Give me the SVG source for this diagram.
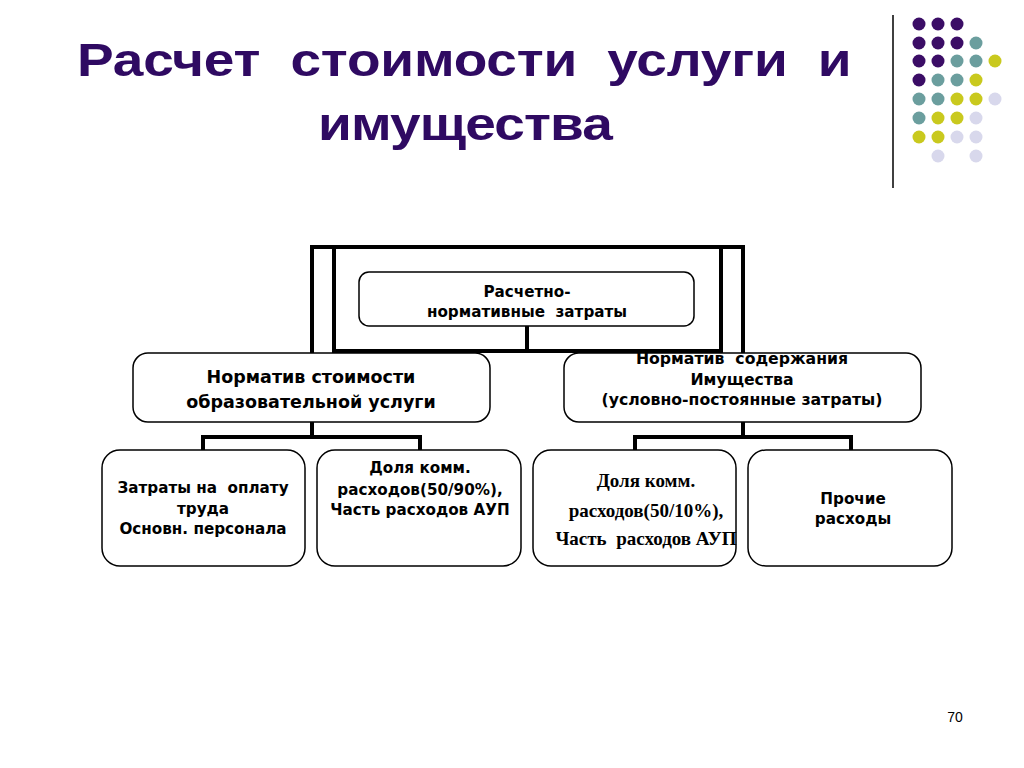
<svg xmlns="http://www.w3.org/2000/svg" width="1024" height="768" viewBox="0 0 1024 768">
<style>
.title{font-family:"Liberation Sans",Arial,sans-serif;font-weight:bold;font-size:47px;fill:#2f0a62;white-space:pre}
.box{fill:#fff;stroke:#000;stroke-width:1.5}
.t{font-family:"DejaVu Sans",Verdana,sans-serif;font-weight:bold;fill:#000;text-anchor:middle;white-space:pre}
.s{font-family:"Liberation Serif","Times New Roman",serif;font-weight:bold;fill:#000;text-anchor:middle;white-space:pre}
.con{fill:none;stroke:#000;stroke-width:4}
.p{fill:#3b0d66}.g{fill:#6b9e9e}.y{fill:#c9c91e}.l{fill:#d8d8ec}
</style>
<rect width="1024" height="768" fill="#fff"/>
<text class="title" transform="matrix(1.17 0 0 1 77 76)" x="0" y="0" textLength="662" lengthAdjust="spacing">Расчет  стоимости  услуги  и</text>
<text class="title" transform="matrix(1.17 0 0 1 318 140)" x="0" y="0" textLength="252" lengthAdjust="spacing">имущества</text>
<g id="decor">
<line x1="893" y1="15" x2="893" y2="188" stroke="#000" stroke-width="1.5"/>
<circle class="p" cx="919" cy="24" r="6.5"/><circle class="p" cx="938" cy="24" r="6.5"/><circle class="p" cx="957" cy="24" r="6.5"/>
<circle class="p" cx="919" cy="43" r="6.5"/><circle class="p" cx="938" cy="43" r="6.5"/><circle class="p" cx="957" cy="43" r="6.5"/><circle class="g" cx="976" cy="43" r="6.5"/>
<circle class="p" cx="919" cy="61" r="6.5"/><circle class="p" cx="938" cy="61" r="6.5"/><circle class="g" cx="957" cy="61" r="6.5"/><circle class="g" cx="976" cy="61" r="6.5"/><circle class="y" cx="995" cy="61" r="6.5"/>
<circle class="p" cx="919" cy="80" r="6.5"/><circle class="g" cx="938" cy="80" r="6.5"/><circle class="g" cx="957" cy="80" r="6.5"/><circle class="y" cx="976" cy="80" r="6.5"/>
<circle class="g" cx="919" cy="99" r="6.5"/><circle class="g" cx="938" cy="99" r="6.5"/><circle class="y" cx="957" cy="99" r="6.5"/><circle class="y" cx="976" cy="99" r="6.5"/><circle class="l" cx="995" cy="99" r="6.5"/>
<circle class="g" cx="919" cy="118" r="6.5"/><circle class="y" cx="938" cy="118" r="6.5"/><circle class="y" cx="957" cy="118" r="6.5"/><circle class="l" cx="976" cy="118" r="6.5"/>
<circle class="y" cx="919" cy="137" r="6.5"/><circle class="y" cx="938" cy="137" r="6.5"/><circle class="l" cx="957" cy="137" r="6.5"/><circle class="l" cx="976" cy="137" r="6.5"/>
<circle class="l" cx="938" cy="156" r="6.5"/><circle class="l" cx="976" cy="156" r="6.5"/>
</g>
<g id="connectors">
<path class="con" d="M312 353 V247 H743 V353"/>
<path class="con" d="M334 247 V351 H721 V247"/>
<path class="con" d="M527 326 V351"/>
<path class="con" d="M312 422 V437 M203 450 V437 H420 V450"/>
<path class="con" d="M743 422 V437 M635 450 V437 H851 V450"/>
</g>
<g id="n-top">
<rect class="box" x="359" y="272" width="335" height="54" rx="10"/>
<text class="t" font-size="15.2" x="527" y="297">Расчетно-</text>
<text class="t" font-size="15.2" x="527" y="317">нормативные  затраты</text>
</g>
<g id="n-left">
<rect class="box" x="133" y="353" width="357" height="69" rx="15"/>
<text class="t" font-size="17.5" x="311" y="383">Норматив стоимости</text>
<text class="t" font-size="17.5" x="311" y="408">образовательной услуги</text>
</g>
<g id="n-right">
<rect class="box" x="564" y="353" width="357" height="69" rx="15"/>
<text class="t" font-size="15.7" x="742" y="364">Норматив  содержания</text>
<text class="t" font-size="15.7" x="742" y="385">Имущества</text>
<text class="t" font-size="15.7" x="742" y="405">(условно-постоянные затраты)</text>
</g>
<g id="n-b1">
<rect class="box" x="102" y="450" width="203" height="116" rx="18"/>
<text class="t" font-size="15.2" x="203" y="493">Затраты на  оплату</text>
<text class="t" font-size="15.2" x="203" y="514">труда</text>
<text class="t" font-size="15.2" x="203" y="534">Основн. персонала</text>
</g>
<g id="n-b2">
<rect class="box" x="317" y="450" width="204" height="116" rx="18"/>
<text class="t" font-size="15.2" x="420" y="473">Доля комм.</text>
<text class="t" font-size="15.2" x="420" y="495">расходов(50/90%),</text>
<text class="t" font-size="15.2" x="420" y="515">Часть расходов АУП</text>
</g>
<g id="n-b3">
<rect class="box" x="533" y="450" width="203" height="116" rx="18"/>
<text class="s" font-size="19" x="646" y="487">Доля комм.</text>
<text class="s" font-size="19" x="646" y="517">расходов(50/10%),</text>
<text class="s" font-size="19" x="646" y="545">Часть  расходов АУП</text>
</g>
<g id="n-b4">
<rect class="box" x="748" y="450" width="204" height="116" rx="18"/>
<text class="t" font-size="15.2" x="853" y="504">Прочие</text>
<text class="t" font-size="15.2" x="853" y="524">расходы</text>
</g>
<text x="955" y="722" font-family="Liberation Sans,Arial,sans-serif" font-size="14" text-anchor="middle">70</text>
</svg>
